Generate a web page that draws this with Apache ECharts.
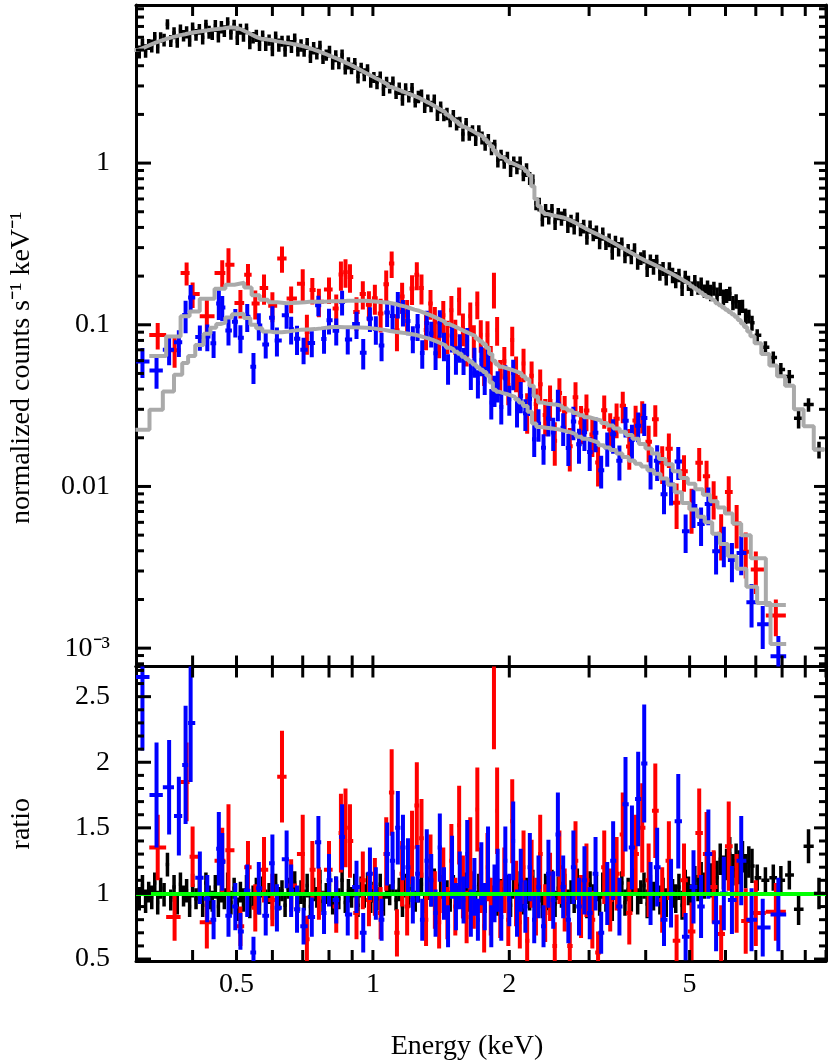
<!DOCTYPE html>
<html>
<head>
<meta charset="utf-8">
<title>spectrum fit</title>
<script src="https://cdn.jsdelivr.net/npm/echarts@6/dist/echarts.min.js"></script>
<style>
  html, body { margin: 0; padding: 0; background: #fff; }
  #main { width: 830px; height: 1060px; }
</style>
</head>
<body>
<div id="main"></div>
<script>
// ---- tick positions / labels ----
var xTicks = [0.4, 0.5, 0.6, 0.7, 0.8, 0.9, 1, 2, 3, 4, 5, 6, 7, 8, 9, 10];
var xTickLabels = [0.5, 1, 2, 5];
var yTopMajor = [0.001, 0.01, 0.1, 1];
var yTopMinor = [0.0008, 0.0009,
  0.002, 0.003, 0.004, 0.005, 0.006, 0.007, 0.008, 0.009,
  0.02, 0.03, 0.04, 0.05, 0.06, 0.07, 0.08, 0.09,
  0.2, 0.3, 0.4, 0.5, 0.6, 0.7, 0.8, 0.9,
  2, 3, 4, 5, 6, 7, 8, 9];
var yRatioMajor = [0.5, 1, 1.5, 2, 2.5];
var yRatioMinor = [0.6, 0.7, 0.8, 0.9, 1.1, 1.2, 1.3, 1.4, 1.6, 1.7, 1.8, 1.9,
  2.1, 2.2, 2.3, 2.4, 2.6, 2.7];

// ---- black data set: bin energy (keV), folded model, data/model ratio, ratio error ----
var blackE = [
  0.300,0.305,0.310,0.315,0.320,0.325,0.330,0.335,0.340,0.346,
  0.352,0.358,0.364,0.370,0.376,0.382,0.388,0.394,0.400,0.407,
  0.414,0.421,0.428,0.435,0.442,0.449,0.456,0.463,0.470,0.478,
  0.486,0.494,0.502,0.510,0.518,0.526,0.535,0.544,0.553,0.562,
  0.571,0.580,0.590,0.600,0.610,0.620,0.630,0.640,0.650,0.661,
  0.672,0.683,0.694,0.705,0.716,0.728,0.740,0.752,0.764,0.776,
  0.789,0.802,0.815,0.828,0.841,0.855,0.869,0.883,0.897,0.912,
  0.927,0.942,0.957,0.973,0.989,1.005,1.021,1.038,1.055,1.072,
  1.089,1.107,1.125,1.143,1.162,1.181,1.200,1.220,1.240,1.260,
  1.280,1.301,1.322,1.344,1.366,1.388,1.411,1.434,1.457,1.481,
  1.505,1.530,1.555,1.580,1.606,1.632,1.659,1.686,1.713,1.741,
  1.769,1.798,1.827,1.857,1.887,1.918,1.949,1.981,2.013,2.046,
  2.079,2.113,2.148,2.183,2.218,2.254,2.291,2.328,2.366,2.405,
  2.444,2.484,2.524,2.565,2.607,2.650,2.693,2.737,2.781,2.826,
  2.872,2.919,2.967,3.015,3.064,3.114,3.165,3.216,3.268,3.321,
  3.375,3.430,3.486,3.543,3.600,3.659,3.718,3.779,3.840,3.902,
  3.966,4.030,4.096,4.162,4.230,4.299,4.369,4.440,4.512,4.585,
  4.660,4.736,4.813,4.891,4.971,5.052,5.134,5.218,5.303,5.389,
  5.477,5.566,5.657,5.749,5.842,5.937,6.034,6.132,6.232,6.333,
  6.436,6.541,6.647,6.755,6.865,
  7.05,7.35,7.65,7.95,8.3,8.7,9.15,9.65];
var blackModel = [
  5.0,5.09,5.18,5.28,5.38,5.48,5.57,5.66,5.75,5.85,
  5.93,6.01,6.08,6.15,6.21,6.27,6.33,6.39,6.44,6.49,
  6.54,6.59,6.63,6.67,6.71,6.74,6.78,6.81,6.85,6.89,
  6.9,6.88,6.8,6.68,6.54,6.4,6.25,6.1,5.97,5.88,
  5.85,5.81,5.77,5.72,5.66,5.62,5.58,5.54,5.5,5.45,
  5.41,5.36,5.3,5.23,5.16,5.08,5.0,4.92,4.84,4.76,
  4.67,4.59,4.5,4.42,4.33,4.24,4.15,4.07,3.98,3.88,
  3.79,3.7,3.61,3.52,3.44,3.36,3.29,3.21,3.13,3.05,
  2.96,2.91,2.86,2.81,2.76,2.71,2.66,2.61,2.57,2.52,
  2.46,2.4,2.35,2.29,2.23,2.17,2.11,2.06,2.0,1.94,
  1.87,1.81,1.74,1.68,1.64,1.6,1.56,1.52,1.49,1.45,
  1.4,1.34,1.27,1.19,1.13,1.09,1.06,1.03,1.0,0.98,
  0.96,0.94,0.92,0.89,0.84,0.72,0.6,0.54,0.5,0.485,
  0.479,0.474,0.47,0.466,0.461,0.454,0.445,0.436,0.426,0.416,
  0.405,0.395,0.386,0.377,0.369,0.361,0.353,0.345,0.337,0.328,
  0.32,0.312,0.304,0.296,0.289,0.282,0.275,0.268,0.261,0.255,
  0.249,0.244,0.239,0.234,0.228,0.223,0.218,0.213,0.208,0.203,
  0.198,0.193,0.188,0.183,0.178,0.173,0.168,0.163,0.158,0.153,
  0.148,0.144,0.14,0.136,0.132,0.128,0.124,0.12,0.116,0.112,
  0.107,0.102,0.097,0.091,0.085,
  0.077,0.066,0.056,0.048,0.042,0.030,0.0236,0.0169];
var blackRatio = [
  1.03,0.96,1.06,0.94,1.01,0.97,1.08,0.93,1.04,0.99,
  1.22,0.95,1.05,0.92,1.07,0.98,1.02,0.9,1.06,0.96,
  1.03,0.91,1.08,0.97,0.94,1.05,0.9,1.02,0.96,1.07,
  0.93,1.04,0.88,1.01,0.95,1.06,0.9,0.98,1.03,0.92,
  1.05,0.94,1.0,0.89,1.07,0.96,1.02,0.91,1.04,0.97,
  1.08,0.93,1.01,0.95,1.06,0.9,1.03,0.97,1.09,0.94,
  1.0,1.07,0.92,1.04,0.96,1.1,0.93,1.02,0.97,1.06,
  0.91,1.05,0.98,1.08,0.94,1.01,0.96,1.07,0.92,1.04,
  0.99,1.09,0.95,1.03,0.9,1.06,0.97,1.11,0.94,1.02,
  1.07,0.93,1.04,0.98,1.1,0.92,1.05,0.96,1.01,0.94,
  1.06,0.97,1.03,0.9,1.08,0.95,1.02,0.93,1.07,0.99,
  0.94,1.05,0.97,1.09,0.92,1.03,0.96,1.06,0.91,1.04,
  0.98,1.07,0.93,1.02,0.96,1.08,0.94,1.03,0.9,1.05,
  0.97,1.09,0.92,1.04,0.99,1.06,0.93,1.01,0.95,1.1,
  0.96,1.03,0.9,1.07,0.98,1.04,0.92,1.06,0.95,1.02,
  0.89,1.05,0.97,1.08,0.93,1.03,0.96,1.1,0.94,1.01,
  1.06,0.92,1.04,0.98,1.09,0.95,1.02,0.93,1.07,1.0,
  0.96,1.05,0.91,1.08,1.02,0.97,1.1,1.04,1.13,1.06,
  1.15,1.1,1.2,1.12,1.26,1.16,1.22,1.3,1.18,1.25,
  1.2,1.28,1.17,1.24,1.21,
  1.12,1.1,1.12,1.1,1.14,0.88,1.36,1.0];
var blackErr = [
  .08,.09,.08,.09,.08,.09,.08,.09,.08,.09,
  .09,.08,.09,.08,.09,.08,.09,.08,.09,.08,
  .08,.09,.08,.09,.08,.09,.08,.09,.08,.09,
  .09,.08,.09,.08,.09,.08,.09,.08,.09,.08,
  .08,.09,.08,.09,.08,.09,.08,.09,.08,.09,
  .09,.08,.09,.08,.09,.08,.09,.08,.09,.08,
  .08,.09,.08,.09,.08,.09,.08,.09,.08,.09,
  .09,.08,.09,.08,.09,.08,.09,.08,.09,.08,
  .08,.09,.08,.09,.08,.09,.08,.09,.08,.09,
  .09,.08,.09,.08,.09,.08,.09,.08,.09,.08,
  .08,.09,.08,.09,.08,.09,.08,.09,.08,.09,
  .09,.08,.09,.08,.09,.08,.09,.08,.09,.08,
  .09,.1,.09,.1,.09,.1,.09,.1,.09,.1,
  .1,.09,.1,.09,.1,.09,.1,.09,.1,.09,
  .09,.1,.09,.1,.09,.1,.09,.1,.09,.1,
  .1,.09,.1,.09,.1,.09,.1,.09,.1,.09,
  .1,.11,.1,.11,.1,.11,.1,.11,.1,.11,
  .11,.1,.11,.1,.11,.1,.11,.1,.11,.1,
  .12,.13,.12,.13,.12,.13,.12,.13,.12,.13,
  .13,.12,.13,.12,.13,
  .1,.1,.1,.11,.11,.12,.13,.12];

// ---- red data set ----
var redE = [
  0.335,0.365,0.388,0.40,0.43,0.465,0.48,0.51,0.53,0.55,
  0.575,0.60,0.63,0.66,0.70,0.715,0.735,0.76,0.80,0.83,
  0.85,0.87,0.89,0.92,0.95,0.98,1.01,1.04,1.07,1.10,
  1.13,1.16,1.19,1.22,1.25,1.28,1.31,1.34,1.37,1.40,
  1.43,1.46,1.49,1.52,1.55,1.58,1.61,1.64,1.67,1.70,
  1.73,1.76,1.79,1.82,1.85,1.88,1.91,1.95,1.99,2.03,
  2.07,2.11,2.15,2.19,2.24,2.29,2.34,2.40,2.46,2.52,
  2.58,2.65,2.72,2.80,2.88,2.96,3.05,3.14,3.24,3.34,
  3.45,3.56,3.68,3.80,3.93,4.06,4.20,4.35,4.50,4.68,
  4.86,5.05,5.25,5.45,5.65,5.87,6.1,6.35,6.65,7.0,
  7.75];
var redModel = [
  0.064,0.0847,0.113,0.121,0.145,0.167,0.177,0.182,0.17,0.152,
  0.143,0.138,0.136,0.137,0.138,0.139,0.139,0.139,0.14,0.14,
  0.14,0.141,0.141,0.141,0.141,0.14,0.139,0.138,0.137,0.135,
  0.132,0.13,0.127,0.124,0.122,0.119,0.116,0.113,0.11,0.107,
  0.104,0.101,0.0985,0.096,0.0935,0.091,0.089,0.087,0.085,0.082,
  0.079,0.076,0.072,0.066,0.06,0.057,0.055,0.054,0.053,0.052,
  0.051,0.05,0.048,0.046,0.042,0.036,0.033,0.0325,0.0322,0.032,
  0.0315,0.0305,0.0295,0.0285,0.0276,0.0268,0.0262,0.0256,0.0247,0.0238,
  0.0228,0.0218,0.0208,0.0197,0.0183,0.0172,0.016,0.0148,0.0137,0.0124,
  0.0113,0.0104,0.0096,0.0089,0.0081,0.0074,0.0068,0.0059,0.005,0.0036,
  0.00185];
var redRatio = [
  1.35,0.82,1.85,1.28,0.78,1.25,1.33,0.75,1.2,0.89,
  1.18,0.95,1.89,1.06,1.3,0.65,1.18,1.0,1.18,0.9,
  1.46,1.5,1.4,0.85,1.1,0.95,1.05,0.85,1.3,1.77,
  0.7,1.15,0.9,1.35,1.67,1.42,0.8,1.2,0.95,0.78,
  1.1,0.85,1.25,0.9,1.52,1.05,0.82,1.3,0.95,1.64,
  1.1,0.75,1.2,0.9,2.8,1.63,0.88,1.1,0.8,1.55,
  1.0,0.78,1.2,0.64,1.15,0.9,1.3,0.85,1.05,0.6,
  1.2,0.95,0.6,1.25,0.9,1.1,0.8,0.55,1.2,0.95,
  1.15,1.45,0.85,1.3,1.5,1.1,1.63,0.95,1.25,0.64,
  1.1,0.71,1.46,1.3,1.05,0.69,1.36,1.0,0.79,0.85,
  0.86];
var redErr = [
  .25,.18,.3,.23,.2,.25,.35,.15,.2,.18,
  .25,.2,.35,.2,.3,.18,.22,.2,.22,.2,
  .3,.3,.28,.2,.22,.2,.22,.2,.28,.33,
  .18,.25,.22,.28,.33,.3,.2,.25,.22,.2,
  .25,.2,.28,.22,.3,.24,.2,.28,.22,.32,
  .25,.2,.26,.22,.7,.33,.22,.25,.2,.32,
  .25,.2,.28,.18,.26,.22,.3,.22,.26,.18,
  .28,.24,.18,.3,.24,.28,.22,.16,.28,.24,
  .28,.32,.24,.3,.34,.28,.36,.25,.3,.2,
  .28,.22,.34,.32,.28,.22,.34,.3,.25,.25,
  .22];

// ---- blue data set ----
var blueE = [
  0.31,0.333,0.355,0.373,0.386,0.396,0.415,0.431,0.445,0.457,
  0.465,0.48,0.497,0.51,0.528,0.545,0.56,0.58,0.60,0.614,
  0.645,0.66,0.68,0.703,0.733,0.758,0.78,0.80,0.83,0.855,
  0.88,0.92,0.952,0.985,1.015,1.045,1.075,1.105,1.135,1.165,
  1.195,1.225,1.255,1.285,1.315,1.345,1.375,1.405,1.435,1.465,
  1.495,1.525,1.555,1.585,1.615,1.645,1.675,1.705,1.735,1.765,
  1.795,1.825,1.855,1.885,1.92,1.96,2.0,2.04,2.08,2.12,
  2.17,2.22,2.27,2.32,2.38,2.44,2.5,2.56,2.63,2.7,
  2.77,2.85,2.93,3.01,3.1,3.19,3.29,3.39,3.5,3.61,
  3.73,3.85,3.97,4.1,4.24,4.39,4.55,4.72,4.9,5.1,
  5.3,5.5,5.72,5.95,6.2,6.5,6.85,7.25,7.85];
var blueModel = [
  0.0224,0.0298,0.0387,0.049,0.058,0.064,0.075,0.088,0.096,0.101,
  0.103,0.111,0.116,0.117,0.11,0.1,0.095,0.091,0.0898,0.0898,
  0.091,0.092,0.093,0.0935,0.094,0.095,0.096,0.0968,0.0968,0.0966,
  0.0964,0.0962,0.096,0.095,0.094,0.093,0.0915,0.0905,0.0897,0.0888,
  0.0878,0.0867,0.0852,0.0836,0.082,0.0803,0.0783,0.0763,0.0743,0.0722,
  0.0702,0.0682,0.0662,0.0635,0.0612,0.059,0.0567,0.0546,0.0527,0.051,
  0.0485,0.044,0.0397,0.0385,0.0378,0.0372,0.0365,0.0358,0.0345,0.033,
  0.0315,0.029,0.0245,0.0233,0.0231,0.0229,0.0227,0.0224,0.022,0.0216,
  0.021,0.0203,0.0197,0.0192,0.0187,0.018,0.0174,0.0168,0.016,0.0152,
  0.0144,0.0138,0.0133,0.0126,0.012,0.0112,0.0103,0.0092,0.0079,0.0072,
  0.0065,0.006,0.0051,0.0044,0.0037,0.0031,0.0024,0.0019,0.00106];
var blueRatio = [
  2.65,1.75,1.81,1.59,1.98,2.30,1.12,0.96,0.8,1.34,
  1.24,0.83,0.9,0.71,1.02,0.55,1.04,0.83,1.23,0.89,
  1.26,1.02,0.88,0.75,0.82,1.39,0.85,1.1,0.95,1.43,
  0.84,1.05,0.7,1.15,1.0,0.8,1.3,1.25,1.5,1.35,
  1.2,0.95,1.15,0.8,1.25,1.1,0.85,1.35,1.0,0.75,
  1.2,0.9,1.1,0.95,1.3,0.85,1.05,0.8,1.15,0.9,
  1.25,0.75,1.0,1.1,0.82,1.25,0.95,1.4,0.85,1.1,
  0.9,1.2,0.8,1.05,0.75,1.15,0.95,1.45,1.05,0.8,
  1.2,0.9,1.1,0.85,1.15,0.7,1.0,1.25,0.9,1.68,
  1.35,1.72,1.99,1.0,1.2,0.8,1.0,1.55,0.67,1.05,
  0.9,1.3,0.78,1.0,0.95,1.25,0.8,0.74,0.84];
var blueErr = [
  .56,.4,.36,.3,.45,.45,.2,.18,.15,.28,
  .22,.16,.18,.14,.2,.12,.2,.15,.22,.18,
  .22,.2,.18,.14,.15,.2,.16,.2,.18,.25,
  .16,.2,.15,.2,.2,.16,.24,.22,.28,.25,
  .22,.18,.22,.16,.24,.2,.18,.26,.2,.16,
  .24,.18,.22,.18,.26,.18,.22,.16,.24,.18,
  .26,.16,.22,.24,.18,.26,.2,.3,.18,.24,
  .2,.26,.18,.24,.16,.26,.22,.32,.24,.18,
  .28,.22,.26,.2,.28,.16,.24,.3,.22,.36,
  .32,.36,.45,.24,.3,.2,.26,.36,.18,.28,
  .24,.34,.22,.28,.26,.34,.24,.22,.28];

[['black', blackE, blackModel, blackRatio, blackErr],
 ['red', redE, redModel, redRatio, redErr],
 ['blue', blueE, blueModel, blueRatio, blueErr]].forEach(function (s) {
  for (var k = 2; k < 5; k++) {
    if (s[k].length !== s[1].length) throw new Error(s[0] + ' array ' + k + ' length ' + s[k].length + ' vs ' + s[1].length);
  }
});

var FONT = '"Liberation Serif", "Times New Roman", serif';

// bin edges: geometric midpoints between neighbouring channels
function binEdges(E) {
  var n = E.length, ed = [E[0] * Math.sqrt(E[0] / E[1])];
  for (var i = 1; i < n; i++) ed.push(Math.sqrt(E[i - 1] * E[i]));
  ed.push(E[n - 1] * Math.sqrt(E[n - 1] / E[n - 2]));
  return ed;
}

function crossSeries(E, val, err, color, lw, xi, yi) {
  var ed = binEdges(E);
  var data = E.map(function (e, i) { return [e, val[i], err[i], ed[i], ed[i + 1]]; });
  return {
    type: 'custom', xAxisIndex: xi, yAxisIndex: yi, clip: true, silent: true,
    data: data, encode: { x: 0, y: 1 },
    renderItem: function (params, api) {
      var e = api.value(0), v = api.value(1), s = api.value(2), lo = api.value(3), hi = api.value(4);
      var a = api.coord([lo, v]), b = api.coord([hi, v]);
      var c = api.coord([e, v - s]), d = api.coord([e, v + s]);
      var st = { stroke: color, lineWidth: lw };
      return { type: 'group', children: [
        { type: 'line', shape: { x1: a[0], y1: a[1], x2: b[0], y2: b[1] }, style: st },
        { type: 'line', shape: { x1: c[0], y1: c[1], x2: d[0], y2: d[1] }, style: st }
      ] };
    }
  };
}

function modelStep(E, M) {
  var ed = binEdges(E), pts = [];
  for (var i = 0; i < E.length; i++) { pts.push([ed[i], M[i]]); pts.push([ed[i + 1], M[i]]); }
  return {
    type: 'line', xAxisIndex: 0, yAxisIndex: 0, data: pts, showSymbol: false, silent: true,
    lineStyle: { color: '#aaaaaa', width: 4 }, z: 3
  };
}

// inward tick marks on all four sides, placed through the axes' own scales
function yTicks(xi, yi, values, lenL, lenR) {
  return {
    type: 'custom', xAxisIndex: xi, yAxisIndex: yi, clip: false, silent: true, z: 6,
    data: values.map(function (v) { return [v]; }), encode: { y: 0 },
    renderItem: function (params, api) {
      var cs = params.coordSys, y = api.coord([1, api.value(0)])[1];
      var st = { stroke: '#000', lineWidth: 3 };
      return { type: 'group', children: [
        { type: 'line', shape: { x1: cs.x, y1: y, x2: cs.x + lenL, y2: y }, style: st },
        { type: 'line', shape: { x1: cs.x + cs.width, y1: y, x2: cs.x + cs.width - lenR, y2: y }, style: st }
      ] };
    }
  };
}
function xTickMarks(xi, yi, values, len) {
  return {
    type: 'custom', xAxisIndex: xi, yAxisIndex: yi, clip: false, silent: true, z: 6,
    data: values.map(function (v) { return [v]; }), encode: { x: 0 },
    renderItem: function (params, api) {
      var cs = params.coordSys, x = api.coord([api.value(0), 1])[0];
      var st = { stroke: '#000', lineWidth: 3 };
      return { type: 'group', children: [
        { type: 'line', shape: { x1: x, y1: cs.y, x2: x, y2: cs.y + len }, style: st },
        { type: 'line', shape: { x1: x, y1: cs.y + cs.height, x2: x, y2: cs.y + cs.height - len }, style: st }
      ] };
    }
  };
}

function times(a, b) { return a.map(function (v, i) { return v * b[i]; }); }

function xAxis(grid, pos, labels) {
  return {
    type: 'log', logBase: 10, gridIndex: grid, position: pos, min: 0.3, max: 10,
    axisLine: { show: true, onZero: false, lineStyle: { color: '#000', width: 3 } },
    axisTick: { show: false },
    axisLabel: { show: labels, customValues: xTickLabels, margin: 10, color: '#000',
      fontFamily: FONT, fontSize: 28, formatter: function (v) { return String(+v.toPrecision(3)); } },
    splitLine: { show: false }, minorTick: { show: false }
  };
}

function topLabel(v) {
  if (Math.abs(v - 0.001) < 1e-7) return '10\u207B\u00B3';
  return String(+v.toPrecision(3));
}

function yAxis(grid, pos, type, min, max, labels, fmt) {
  var ax = {
    type: type, gridIndex: grid, position: pos, min: min, max: max,
    axisLine: { show: true, onZero: false, lineStyle: { color: '#000', width: 3 } },
    axisTick: { show: false },
    axisLabel: { show: !!labels, color: '#000', fontFamily: FONT, fontSize: 28, margin: 26 },
    splitLine: { show: false }, minorTick: { show: false }
  };
  if (type === 'log') ax.logBase = 10;
  if (labels) { ax.axisLabel.customValues = labels; ax.axisLabel.formatter = fmt; }
  return ax;
}

var bottomX = xAxis(1, 'bottom', true);
bottomX.name = 'Energy (keV)';
bottomX.nameLocation = 'middle';
bottomX.nameGap = 72;
bottomX.nameTextStyle = { fontFamily: FONT, fontSize: 28, color: '#000', padding: [0, 28, 0, 0] };

var topLeftY = yAxis(0, 'left', 'log', 7.7e-4, 9.5, yTopMajor, topLabel);
topLeftY.name = 'normalized counts s\u207B\u00B9 keV\u207B\u00B9';
topLeftY.nameLocation = 'middle';
topLeftY.nameGap = 100;
topLeftY.nameTextStyle = { fontFamily: FONT, fontSize: 28, color: '#000', padding: [0, 64, 0, 0] };

var ratioLeftY = yAxis(1, 'left', 'value', 0.485, 2.73, yRatioMajor,
  function (v) { return String(+v.toPrecision(3)); });
ratioLeftY.name = 'ratio';
ratioLeftY.nameLocation = 'middle';
ratioLeftY.nameGap = 100;
ratioLeftY.nameTextStyle = { fontFamily: FONT, fontSize: 28, color: '#000', padding: [0, 20, 0, 0] };

var option = {
  animation: false,
  backgroundColor: '#fff',
  grid: [
    { left: 136, right: 4, top: 5, height: 661.5, outerBoundsMode: 'none' },
    { left: 136, right: 4, top: 666.5, height: 294.5, outerBoundsMode: 'none' }
  ],
  xAxis: [
    xAxis(0, 'bottom', false),
    xAxis(0, 'top', false),
    bottomX,
    xAxis(1, 'top', false)
  ],
  yAxis: [
    topLeftY,
    yAxis(0, 'right', 'log', 7.7e-4, 9.5),
    ratioLeftY,
    yAxis(1, 'right', 'value', 0.485, 2.73)
  ],
  series: [
    // spectra
    crossSeries(blackE, times(blackModel, blackRatio), times(blackModel, blackErr), '#000000', 3.5, 0, 0),
    crossSeries(redE, times(redModel, redRatio), times(redModel, redErr), '#ff0000', 4, 0, 0),
    crossSeries(blueE, times(blueModel, blueRatio), times(blueModel, blueErr), '#0000ff', 4, 0, 0),
    modelStep(blackE, blackModel),
    modelStep(redE, redModel),
    modelStep(blueE, blueModel),
    // ratios
    crossSeries(blackE, blackRatio, blackErr, '#000000', 3.5, 2, 2),
    crossSeries(redE, redRatio, redErr, '#ff0000', 4, 2, 2),
    crossSeries(blueE, blueRatio, blueErr, '#0000ff', 4, 2, 2),
    {
      type: 'line', xAxisIndex: 2, yAxisIndex: 2, data: [], silent: true, z: 5,
      markLine: {
        silent: true, symbol: ['none', 'none'], label: { show: false },
        lineStyle: { color: '#00ff00', width: 4, type: 'solid' },
        data: [{ yAxis: 1 }]
      }
    },
    // tick marks
    yTicks(0, 0, yTopMajor, 15, 12),
    yTicks(0, 0, yTopMinor, 8, 7),
    yTicks(2, 2, yRatioMajor, 15, 12),
    yTicks(2, 2, yRatioMinor, 8, 7),
    xTickMarks(0, 0, xTicks, 11),
    xTickMarks(2, 2, xTicks, 11)
  ]
};

var chart = echarts.init(document.getElementById('main'), null, { renderer: 'canvas' });
chart.setOption(option);
</script>
</body>
</html>
